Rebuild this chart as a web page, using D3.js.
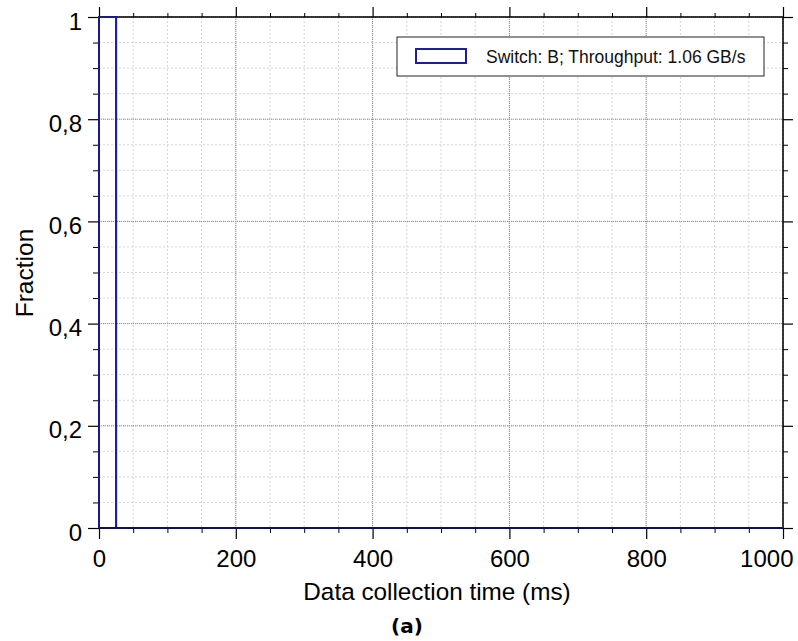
<!DOCTYPE html>
<html><head><meta charset="utf-8">
<script src="https://cdn.jsdelivr.net/npm/d3@7"></script>
<style>body{margin:0;background:#fff}</style>
</head><body>
<svg id="c" width="798" height="641"></svg>
<script>
// Data: histogram bins (ms) and fraction per bin
const binWidth = 25;
const binStarts = d3.range(0, 1000, 25);
const fractions = binStarts.map((s, i) => i === 0 ? 1 : 0);
const xTicks = [0, 200, 400, 600, 800, 1000];
const yTicks = [0, 0.2, 0.4, 0.6, 0.8, 1];
const yTickLabels = ["0", "0,2", "0,4", "0,6", "0,8", "1"];
const legendLabel = "Switch: B; Throughput: 1.06 GB/s";

const svg = d3.select("#c");
const L = 99, R = 783, T = 17, B = 528;
const x = d3.scaleLinear().domain([0, 1000]).range([L, R]);
const y = d3.scaleLinear().domain([0, 1]).range([B, T]);
const font = "'Liberation Sans', Arial, sans-serif";
const col = "#1f1f99";

// minor grid
const xMinor = d3.range(0, 1001, 50), yMinor = d3.range(0, 1.0001, 0.05);
const g = svg.append("g");
g.selectAll(".mx").data(xMinor).enter().append("line")
  .attr("x1", d => x(d)).attr("x2", d => x(d)).attr("y1", T).attr("y2", B)
  .attr("stroke", "#d4d4d4").attr("stroke-width", 1).attr("stroke-dasharray", "2,2");
g.selectAll(".my").data(yMinor).enter().append("line")
  .attr("y1", d => y(d)).attr("y2", d => y(d)).attr("x1", L).attr("x2", R)
  .attr("stroke", "#d4d4d4").attr("stroke-width", 1).attr("stroke-dasharray", "2,2");
// major grid
g.selectAll(".Mx").data(xTicks).enter().append("line")
  .attr("x1", d => x(d)).attr("x2", d => x(d)).attr("y1", T).attr("y2", B)
  .attr("stroke", "#8a8a8a").attr("stroke-width", 1).attr("stroke-dasharray", "1,1");
g.selectAll(".My").data(yTicks).enter().append("line")
  .attr("y1", d => y(d)).attr("y2", d => y(d)).attr("x1", L).attr("x2", R)
  .attr("stroke", "#8a8a8a").attr("stroke-width", 1).attr("stroke-dasharray", "1,1");

// axes with ticks (outside)
function axisSet(axisGen, scale, transform, major, minor, majorLen, minorLen, labels) {
  svg.append("g").attr("transform", transform)
    .call(axisGen(scale).tickValues(minor).tickSize(minorLen).tickFormat(""))
    .call(a => a.select(".domain").remove())
    .call(a => a.selectAll("line").attr("stroke", "#000").attr("stroke-width", 1));
  const ax = svg.append("g").attr("transform", transform)
    .call(axisGen(scale).tickValues(major).tickSize(majorLen).tickPadding(6)
      .tickFormat(labels ? ((d, i) => labels[i]) : ""));
  ax.select(".domain").remove();
  ax.selectAll("line").attr("stroke", "#000").attr("stroke-width", 1.2);
  ax.selectAll("text").attr("font-family", font).attr("font-size", 24).attr("fill", "#000");
  return ax;
}
const xMinorOnly = xMinor.filter(d => d % 200 !== 0);
const yMinorOnly = yMinor.filter(d => Math.abs(d * 5 - Math.round(d * 5)) > 1e-6);
const xb = axisSet(d3.axisBottom, x, `translate(0,${B})`, xTicks, xMinorOnly, 11, 5, xTicks.map(String));
xb.selectAll("text").attr("y", 39).attr("dy", null);
xb.selectAll("text").filter(d => d === 1000).attr("text-anchor", "end").attr("x", 10);
axisSet(d3.axisTop, x, `translate(0,${T})`, xTicks, xMinorOnly, 10, 4, null);
const yl = axisSet(d3.axisLeft, y, `translate(${L},0)`, yTicks, yMinorOnly, 11, 6, yTickLabels);
yl.selectAll("text").attr("x", -17).attr("dy", "0.5em");
axisSet(d3.axisRight, y, `translate(${R},0)`, yTicks, yMinorOnly, 10, 5, null);

// histogram step outline
const pts = [[0, 0]];
binStarts.forEach((s, i) => { pts.push([s, fractions[i]]); pts.push([s + binWidth, fractions[i]]); });
pts.push([1000, 0]);
svg.append("path").datum(pts)
  .attr("d", d3.line().x(d => x(d[0])).y(d => y(d[1])))
  .attr("fill", "none").attr("stroke", col).attr("stroke-width", 2);

// frame
svg.append("rect").attr("x", L).attr("y", T).attr("width", R - L).attr("height", B - T)
  .attr("fill", "none").attr("stroke", "#000").attr("stroke-width", 1.5);
// redraw bar edges above frame
svg.append("path").datum(pts.slice(0, 4))
  .attr("d", d3.line().x(d => x(d[0])).y(d => y(d[1])))
  .attr("fill", "none").attr("stroke", col).attr("stroke-width", 2).attr("opacity", 0.85);
svg.append("line").attr("x1", L).attr("x2", R).attr("y1", B).attr("y2", B)
  .attr("stroke", "#10104a").attr("stroke-width", 2);

// legend
const lg = svg.append("g");
lg.append("rect").attr("x", 397).attr("y", 37).attr("width", 367).attr("height", 39)
  .attr("fill", "#fff").attr("stroke", "#222").attr("stroke-width", 1);
lg.append("rect").attr("x", 416).attr("y", 49).attr("width", 50).attr("height", 14)
  .attr("fill", "#fff").attr("stroke", col).attr("stroke-width", 2);
lg.append("text").attr("x", 486).attr("y", 63).attr("font-family", font).attr("font-size", 17.5)
  .attr("fill", "#111").text(legendLabel);

// axis titles
svg.append("text").attr("x", 437).attr("y", 600).attr("text-anchor", "middle")
  .attr("font-family", font).attr("font-size", 24.3).text("Data collection time (ms)");
svg.append("text").attr("transform", "translate(33,273) rotate(-90)").attr("text-anchor", "middle")
  .attr("font-family", font).attr("font-size", 24.5).text("Fraction");
svg.append("text").attr("x", 407).attr("y", 633).attr("text-anchor", "middle")
  .attr("font-family", "'DejaVu Sans', sans-serif").attr("font-weight", "bold")
  .attr("font-size", 20).text("(a)");
</script>
</body></html>
